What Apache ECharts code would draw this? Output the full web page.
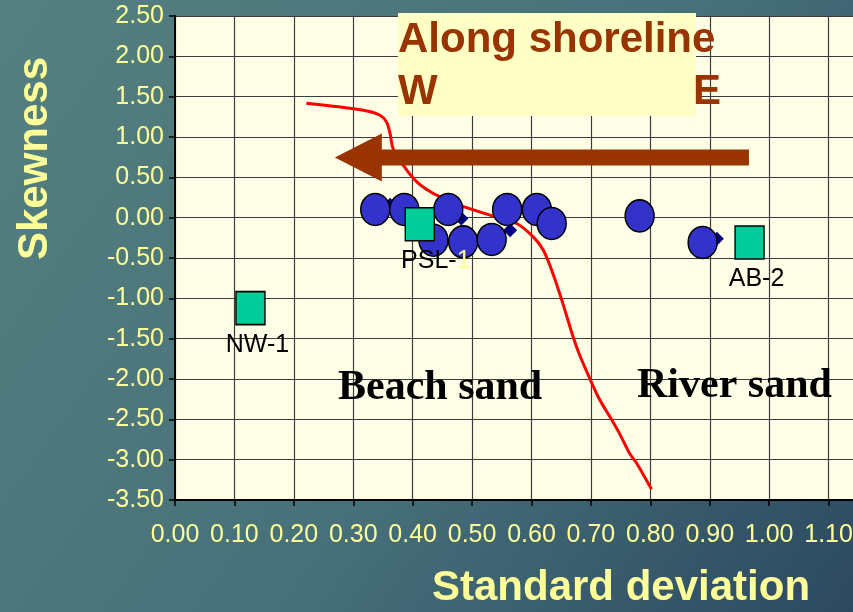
<!DOCTYPE html>
<html>
<head>
<meta charset="utf-8">
<script src="https://cdn.jsdelivr.net/npm/echarts@6/dist/echarts.min.js"></script>
<style>
  html, body { margin: 0; padding: 0; }
  #chart { width: 853px; height: 612px; }
</style>
</head>
<body>
<div id="chart"></div>
<script>
// Red dividing curve between beach sand and river sand (std. deviation, skewness)
const boundaryX = [0.221, 0.317, 0.345, 0.356, 0.362, 0.367, 0.384, 0.407, 0.435, 0.479, 0.530, 0.575, 0.603, 0.620, 0.636, 0.651, 0.670, 0.681, 0.698, 0.715, 0.732, 0.748, 0.765, 0.777, 0.802];
const boundaryY = [1.418, 1.332, 1.270, 1.187, 1.043, 0.857, 0.650, 0.443, 0.300, 0.155, 0.031, -0.072, -0.238, -0.403, -0.691, -1.022, -1.477, -1.703, -1.992, -2.261, -2.468, -2.674, -2.921, -3.045, -3.367];

// Shoreline samples (blue circles)
const sampleX = [0.337, 0.386, 0.460, 0.435, 0.485, 0.533, 0.559, 0.609, 0.634, 0.782, 0.888];
const sampleY = [0.102, 0.102, 0.102, -0.279, -0.300, -0.270, 0.102, 0.102, -0.072, 0.022, -0.307];

// Secondary sample set (small navy diamonds)
const diamondX = [0.362, 0.482, 0.564, 0.912];
const diamondY = [0.160, -0.010, -0.155, -0.262];

// Reference stations (green squares)
const stationNames = ['NW-1', 'PSL-1', 'AB-2'];
const stationX = [0.127, 0.412, 0.967];
const stationY = [-1.121, -0.081, -0.307];

// Along-shore direction arrow (east to west)
const arrowFrom = [0.966, 0.746];
const arrowTo = [0.269, 0.746];

// Axis ranges
const xMin = 0, xMax = 1.2, xStep = 0.1;
const yMin = -3.5, yMax = 2.5, yStep = 0.5;

const zip = (xs, ys) => xs.map((x, i) => [x, ys[i]]);

const chart = echarts.init(document.getElementById('chart'), null, { renderer: 'canvas' });

const tickColor = '#FFFF99';
const sans = "'Liberation Sans', Arial, sans-serif";
const serif = "'Liberation Serif', 'Times New Roman', serif";

const option = {
  animation: false,
  backgroundColor: {
    type: 'linear', x: 0, y: 0, x2: 1, y2: 1,
    colorStops: [
      { offset: 0, color: '#55807f' },
      { offset: 0.55, color: '#47717a' },
      { offset: 1, color: '#2c4960' }
    ]
  },
  grid: {
    left: 175, top: 16, right: -35, bottom: 112,
    outerBoundsMode: 'none', containLabel: false,
    show: true, backgroundColor: '#FFFFE8', borderWidth: 0
  },
  xAxis: {
    type: 'value', min: xMin, max: xMax, interval: xStep,
    axisLine: { show: true, onZero: false, lineStyle: { color: '#000', width: 2 } },
    axisTick: { show: true, length: 6, lineStyle: { color: '#000', width: 1.5 } },
    axisLabel: {
      color: tickColor, fontFamily: sans, fontSize: 25, margin: 23,
      formatter: v => v.toFixed(2)
    },
    splitLine: { show: true, lineStyle: { color: '#3c3c3c', width: 1.2 } }
  },
  yAxis: {
    type: 'value', min: yMin, max: yMax, interval: yStep,
    axisLine: { show: true, onZero: false, lineStyle: { color: '#000', width: 2 } },
    axisTick: { show: true, length: 6, lineStyle: { color: '#000', width: 1.5 } },
    axisLabel: {
      color: tickColor, fontFamily: sans, fontSize: 25, margin: 11,
      padding: [8, 0, 0, 0],
      formatter: v => v.toFixed(2)
    },
    splitLine: { show: true, lineStyle: { color: '#3c3c3c', width: 1.2 } }
  },
  series: [
    {
      name: 'Boundary', type: 'line', z: 2,
      data: zip(boundaryX, boundaryY),
      showSymbol: false, smooth: 0.3,
      lineStyle: { color: '#FF0000', width: 3 }
    },
    {
      name: 'Diamonds', type: 'scatter', z: 3,
      data: zip(diamondX, diamondY),
      symbol: 'diamond', symbolSize: 14,
      itemStyle: { color: '#000080', opacity: 1 }
    },
    {
      name: 'Samples', type: 'scatter', z: 4,
      data: zip(sampleX, sampleY),
      symbol: 'circle', symbolSize: [29, 32],
      itemStyle: { color: '#3333CC', borderColor: '#000', borderWidth: 1.5, opacity: 1 }
    },
    {
      name: 'Stations', type: 'scatter', z: 5,
      data: stationNames.map((n, i) => ({
        name: n,
        value: [stationX[i], stationY[i]],
        label: { offset: [n === 'PSL-1' ? 16 : 7, 0] }
      })),
      symbol: 'rect', symbolSize: [29, 33],
      itemStyle: { color: '#00CC99', borderColor: '#000', borderWidth: 1.5, opacity: 1 },
      label: {
        show: true, position: 'bottom', distance: 7,
        fontFamily: sans, fontSize: 25, color: '#000',
        formatter: p => p.name === 'PSL-1' ? 'PSL-{f|1}' : p.name,
        rich: { f: { color: '#FFFF99', fontFamily: sans, fontSize: 25 } }
      }
    },
    {
      name: 'Direction', type: 'custom', z: 6, clip: false,
      data: [[arrowFrom[0], arrowFrom[1], arrowTo[0], arrowTo[1]]],
      renderItem: (params, api) => {
        const tail = api.coord([api.value(0), api.value(1)]);
        const tip = api.coord([api.value(2), api.value(3)]);
        const half = 8, headLen = 47, headHalf = 24;
        const bx = tip[0] + headLen;
        const cy = tip[1];
        return {
          type: 'polygon',
          shape: {
            points: [
              [tail[0], tail[1] - half], [bx, cy - half], [bx, cy - headHalf],
              tip, [bx, cy + headHalf], [bx, cy + half], [tail[0], tail[1] + half]
            ]
          },
          style: { fill: '#993300' }
        };
      }
    }
  ],
  graphic: [
    {
      type: 'rect', z: 100,
      shape: { x: 398, y: 13, width: 298, height: 103 },
      style: { fill: '#FFFFC6' }
    },
    {
      type: 'text', z: 101, x: 398, y: 40.5,
      style: { text: 'Along shoreline', fill: '#993300', font: `bold 42px ${sans}`, verticalAlign: 'middle' }
    },
    {
      type: 'text', z: 101, x: 398, y: 92.5,
      style: { text: 'W', fill: '#993300', font: `bold 42px ${sans}`, verticalAlign: 'middle' }
    },
    {
      type: 'text', z: 101, x: 693, y: 92.5,
      style: { text: 'E', fill: '#993300', font: `bold 42px ${sans}`, verticalAlign: 'middle' }
    },
    {
      type: 'text', z: 101, x: 338, y: 388.5,
      style: { text: 'Beach sand', fill: '#000', font: `bold 42px ${serif}`, verticalAlign: 'middle' }
    },
    {
      type: 'text', z: 101, x: 637, y: 386.5,
      style: { text: 'River sand', fill: '#000', font: `bold 42px ${serif}`, verticalAlign: 'middle' }
    },
    {
      type: 'text', z: 101, x: 432, y: 588.5,
      style: { text: 'Standard deviation', fill: tickColor, font: `bold 42px ${sans}`, verticalAlign: 'middle' }
    },
    {
      type: 'text', z: 101, x: 35.5, y: 158.5, rotation: Math.PI / 2,
      style: { text: 'Skewness', fill: tickColor, font: `bold 42px ${sans}`, align: 'center', verticalAlign: 'middle' }
    }
  ]
};

chart.setOption(option);
</script>
</body>
</html>
